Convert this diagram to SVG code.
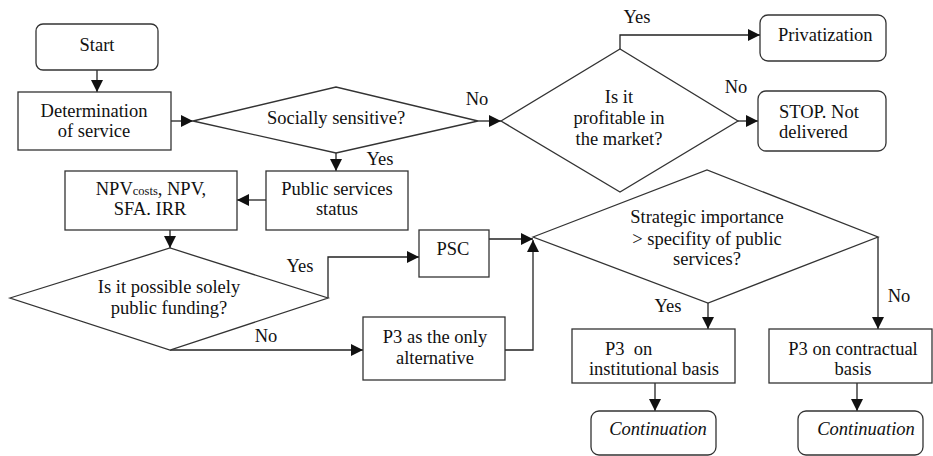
<svg xmlns="http://www.w3.org/2000/svg" width="933" height="456" viewBox="0 0 933 456">
<defs>
<marker id="ah" markerUnits="userSpaceOnUse" markerWidth="12" markerHeight="12" refX="12" refY="6" orient="auto">
<path d="M0,0 L12,6 L0,12 z" fill="#111"/>
</marker>
</defs>
<rect width="933" height="456" fill="#fff"/>
<g id="connectors" fill="none" stroke="#222" stroke-width="1.3">
<path marker-end="url(#ah)" d="M97,70 V92"/>
<path marker-end="url(#ah)" d="M171,121 H193"/>
<path marker-end="url(#ah)" d="M478,121 H501"/>
<path marker-end="url(#ah)" d="M620,49 V35 H760"/>
<path marker-end="url(#ah)" d="M738,121 H758"/>
<path marker-end="url(#ah)" d="M336,153 V171"/>
<path marker-end="url(#ah)" d="M266,200 H237"/>
<path marker-end="url(#ah)" d="M170,230 V248"/>
<path marker-end="url(#ah)" d="M328,298 V257 H419"/>
<path marker-end="url(#ah)" d="M170,350 H363"/>
<path marker-end="url(#ah)" d="M489,239 H533"/>
<path marker-end="url(#ah)" d="M505,350 H533 V240"/>
<path marker-end="url(#ah)" d="M708,303 V329"/>
<path marker-end="url(#ah)" d="M878,237 V329"/>
<path marker-end="url(#ah)" d="M655,383 V411"/>
<path marker-end="url(#ah)" d="M857,383 V411"/>
</g>
<g fill="#fff" stroke="#333" stroke-width="1.3">
<rect id="start-shape" x="36" y="24" width="122" height="46" rx="7"/>
<rect x="18" y="92" width="153" height="58"/>
<polygon points="193,121 336,87 478,121 336,153"/>
<polygon points="501,121 620,49 738,121 620,192"/>
<rect x="760" y="15" width="126" height="46" rx="8"/>
<rect x="758" y="91" width="128" height="60" rx="8"/>
<rect x="266" y="171" width="142" height="59"/>
<rect x="65" y="171" width="172" height="59"/>
<polygon points="10,298 170,248 328,298 170,350"/>
<rect x="419" y="230" width="70" height="47"/>
<rect x="363" y="317" width="142" height="63"/>
<polygon points="533,237 707,170 878,237 708,303"/>
<rect x="572" y="329" width="163" height="54"/>
<rect x="769" y="329" width="163" height="54"/>
<rect x="591" y="411" width="125" height="44" rx="8"/>
<rect x="798" y="411" width="125" height="44" rx="8"/>
</g>
<g fill="#111" text-anchor="middle">
<g id="start"><text font-family="Liberation Serif" font-size="18.5" x="97" y="51">Start</text></g>
<g id="determination"><text font-family="Liberation Serif" font-size="18.5" x="94" y="117">Determination</text><text font-family="Liberation Serif" font-size="18.5" x="94" y="137">of service</text></g>
<g id="socially"><text font-family="Liberation Serif" font-size="18.5" x="336" y="124">Socially sensitive?</text></g>
<g id="profitable"><text font-family="Liberation Serif" font-size="18.5" x="619" y="103">Is it</text><text font-family="Liberation Serif" font-size="18.5" x="619" y="124">profitable in</text><text font-family="Liberation Serif" font-size="18.5" x="619" y="145">the market?</text></g>
<g id="privatization"><text font-family="Liberation Serif" font-size="18.5" text-anchor="start" x="778" y="41">Privatization</text></g>
<g id="stop"><text font-family="Liberation Serif" font-size="18.5" text-anchor="start" x="779" y="118">STOP. Not</text><text font-family="Liberation Serif" font-size="18.5" text-anchor="start" x="779" y="138">delivered</text></g>
<g id="public"><text font-family="Liberation Serif" font-size="18.5" x="337" y="195">Public services</text><text font-family="Liberation Serif" font-size="18.5" x="337" y="215">status</text></g>
<g id="npv"><text font-family="Liberation Serif" font-size="18.5" x="151" y="195">NPV<tspan font-size="12.5">costs</tspan>, NPV,</text><text font-family="Liberation Serif" font-size="18.5" x="150" y="215">SFA. IRR</text></g>
<g id="funding"><text font-family="Liberation Serif" font-size="18.5" x="169" y="293">Is it possible solely</text><text font-family="Liberation Serif" font-size="18.5" x="169" y="314">public funding?</text></g>
<g id="psc"><text font-family="Liberation Serif" font-size="18.5" x="453" y="255">PSC</text></g>
<g id="p3alt"><text font-family="Liberation Serif" font-size="18.5" x="435" y="343">P3 as the only</text><text font-family="Liberation Serif" font-size="18.5" x="435" y="364">alternative</text></g>
<g id="strategic"><text font-family="Liberation Serif" font-size="18.5" x="707" y="223">Strategic importance</text><text font-family="Liberation Serif" font-size="18.5" x="707" y="245">&gt; specifity of public</text><text font-family="Liberation Serif" font-size="18.5" x="707" y="265">services?</text></g>
<g id="institutional"><text font-family="Liberation Serif" font-size="18.5" text-anchor="start" x="605" y="355" xml:space="preserve">P3  on</text><text font-family="Liberation Serif" font-size="18.5" x="654" y="375">institutional basis</text></g>
<g id="contractual"><text font-family="Liberation Serif" font-size="18.5" x="853" y="355">P3 on contractual</text><text font-family="Liberation Serif" font-size="18.5" x="853" y="375">basis</text></g>
<g id="cont1"><text font-family="Liberation Serif" font-size="18.5" font-style="italic" x="658" y="435">Continuation</text></g>
<g id="cont2"><text font-family="Liberation Serif" font-size="18.5" font-style="italic" x="866" y="435">Continuation</text></g>
<g id="labels">
<text font-family="Liberation Serif" font-size="18.5" x="477" y="105">No</text>
<text font-family="Liberation Serif" font-size="18.5" x="380" y="165">Yes</text>
<text font-family="Liberation Serif" font-size="18.5" x="637" y="23">Yes</text>
<text font-family="Liberation Serif" font-size="18.5" x="736" y="93">No</text>
<text font-family="Liberation Serif" font-size="18.5" x="300" y="272">Yes</text>
<text font-family="Liberation Serif" font-size="18.5" x="266" y="342">No</text>
<text font-family="Liberation Serif" font-size="18.5" x="668" y="312">Yes</text>
<text font-family="Liberation Serif" font-size="18.5" x="899" y="302">No</text>
</g>
</g>
</svg>
